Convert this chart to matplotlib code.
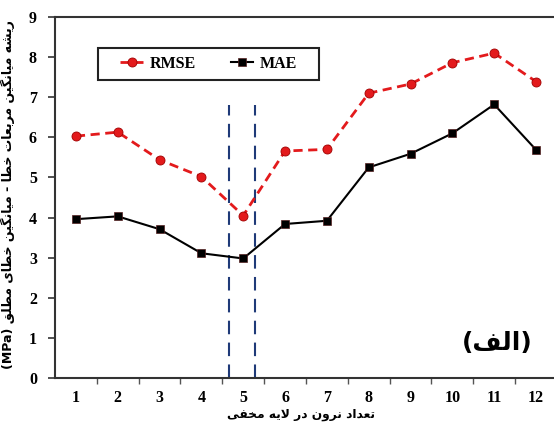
import matplotlib
matplotlib.use("Agg")
import matplotlib.pyplot as plt
from matplotlib.patches import Rectangle

# data
neurons = [1, 2, 3, 4, 5, 6, 7, 8, 9, 10, 11, 12]
rmse = [6.03, 6.13, 5.44, 5.02, 4.05, 5.66, 5.70, 7.10, 7.33, 7.86, 8.10, 7.39]
mae = [3.96, 4.03, 3.71, 3.11, 2.98, 3.84, 3.92, 5.25, 5.59, 6.10, 6.82, 5.69]
best_band = [4.66, 5.27]
yticks = [0, 1, 2, 3, 4, 5, 6, 7, 8, 9]

ylabel_fa = "ریشه میانگین مربعات خطا - میانگین خطای مطلق"
xlabel_fa = "تعداد نرون در لایه مخفی"
panel_fa = "الف"

# arabic presentation forms: isolated, final, initial, medial
FORMS = {
    "ا": ("\ufe8d", "\ufe8e", None, None),
    "ب": ("\ufe8f", "\ufe90", "\ufe91", "\ufe92"),
    "ت": ("\ufe95", "\ufe96", "\ufe97", "\ufe98"),
    "خ": ("\ufea5", "\ufea6", "\ufea7", "\ufea8"),
    "د": ("\ufea9", "\ufeaa", None, None),
    "ر": ("\ufead", "\ufeae", None, None),
    "ش": ("\ufeb5", "\ufeb6", "\ufeb7", "\ufeb8"),
    "ط": ("\ufec1", "\ufec2", "\ufec3", "\ufec4"),
    "ع": ("\ufec9", "\ufeca", "\ufecb", "\ufecc"),
    "ف": ("\ufed1", "\ufed2", "\ufed3", "\ufed4"),
    "ق": ("\ufed5", "\ufed6", "\ufed7", "\ufed8"),
    "ل": ("\ufedd", "\ufede", "\ufedf", "\ufee0"),
    "م": ("\ufee1", "\ufee2", "\ufee3", "\ufee4"),
    "ن": ("\ufee5", "\ufee6", "\ufee7", "\ufee8"),
    "ه": ("\ufee9", "\ufeea", "\ufeeb", "\ufeec"),
    "و": ("\ufeed", "\ufeee", None, None),
    "ی": ("\ufbfc", "\ufbfd", "\ufbfe", "\ufbff"),
    "گ": ("\ufb92", "\ufb93", "\ufb94", "\ufb95"),
}


def shape(s):
    # join letters and return in visual (left to right) order
    out = []
    i = 0
    while i < len(s):
        c = s[i]
        if c not in FORMS:
            out.append(c)
            i += 1
            continue
        prev = s[i - 1] if i > 0 else None
        join_prev = prev in FORMS and FORMS[prev][2] is not None
        if c == "ل" and i + 1 < len(s) and s[i + 1] == "ا":
            out.append("\ufefc" if join_prev else "\ufefb")
            i += 2
            continue
        nxt = s[i + 1] if i + 1 < len(s) else None
        f = FORMS[c]
        join_next = f[2] is not None and nxt in FORMS
        if join_prev and join_next:
            out.append(f[3])
        elif join_prev:
            out.append(f[1])
        elif join_next:
            out.append(f[2])
        else:
            out.append(f[0])
        i += 1
    return "".join(out)[::-1]


num_font = dict(family="Liberation Serif", weight="bold")
fa_font = dict(family=["DejaVu Sans", "Liberation Serif"], weight="bold")

fig = plt.figure(figsize=(5.54, 4.32), dpi=100)
ax = fig.add_axes([0.0993, 0.125, 0.906, 0.8356])

ax.vlines(best_band, 0, 6.8, colors="#1f3a78", linestyles=(0, (6.5, 4)), lw=1.5, zorder=1)
ax.plot(neurons, rmse, color="#e31a1c", lw=2, ls=(0, (3.3, 2)), marker="o",
        ms=6.5, mfc="#e31a1c", mec="#a00000", mew=0.6, label="RMSE", zorder=3)
ax.plot(neurons, mae, color="black", lw=1.5, marker="s", ms=5.5,
        mfc="black", mec="#552020", mew=0.5, label="MAE", zorder=3)

ax.set_xlim(0.5, 12.5)
ax.set_ylim(0, 9)
ax.set_xticks(neurons)
ax.set_xticks([n + 0.5 for n in neurons[:-1]], minor=True)
ax.set_yticks(yticks)
ax.tick_params(axis="x", which="major", length=0, pad=9)
ax.tick_params(axis="x", which="minor", length=4, width=1, direction="out", color="#555555")
ax.tick_params(axis="y", length=5, width=1.2, direction="out", pad=8, color="#333333")
for lab in ax.get_xticklabels() + ax.get_yticklabels():
    lab.set_fontproperties(matplotlib.font_manager.FontProperties(size=11.5, **num_font))

for side in ["left", "bottom", "top"]:
    ax.spines[side].set_linewidth(1.5)
    ax.spines[side].set_color("#333333")
ax.spines["right"].set_visible(False)

ax.set_ylabel("(MPa) " + shape(ylabel_fa), fontsize=9, **fa_font)
ax.yaxis.set_label_coords(-0.08, 0.508)
ax.set_xlabel(shape(xlabel_fa), fontsize=8.8, **fa_font)
ax.xaxis.set_label_coords(0.49, -0.083)

ax.text(0.882, 0.097, "(" + shape(panel_fa) + ")", transform=ax.transAxes,
        ha="center", va="center", fontsize=18, **fa_font)

ax.add_patch(Rectangle((0.0857, 0.825), 0.44, 0.089, transform=ax.transAxes,
                       fill=False, lw=1.5, ec="#222222", zorder=4))
ax.legend(loc="center", bbox_to_anchor=(0.306, 0.870), ncol=2, frameon=False,
          handlelength=1.4, handletextpad=0.4, columnspacing=2.2,
          prop=matplotlib.font_manager.FontProperties(size=11.5, **num_font))

fig.savefig("out.png", dpi=100)
